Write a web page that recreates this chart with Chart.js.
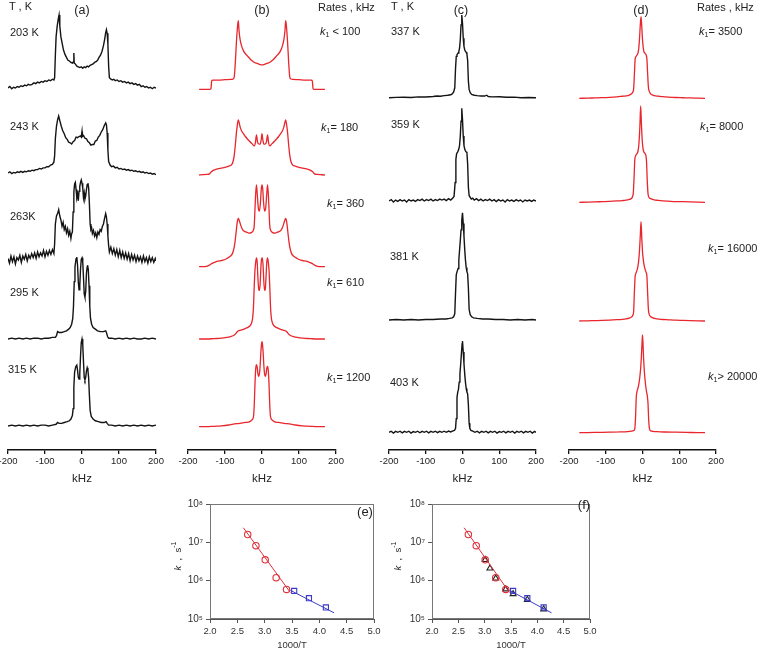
<!DOCTYPE html>
<html><head><meta charset="utf-8">
<script src="https://cdn.jsdelivr.net/npm/chart.js@4.4.0/dist/chart.umd.min.js"></script>
<style>
html,body{margin:0;padding:0;width:760px;height:649px;overflow:hidden;background:#fff;font-family:"Liberation Sans",Arial,sans-serif;color:#222}
canvas{position:absolute}
.t{position:absolute;white-space:nowrap;font-size:11px;line-height:11px;height:11px}
.h{position:absolute;white-space:nowrap;font-size:12.5px;line-height:13px;transform:translateX(-50%)}
.yt{position:absolute;white-space:nowrap;font-size:9.5px;line-height:10px;transform:translate(-50%,-50%) rotate(-90deg)}
sub{font-size:7px;vertical-align:-2px;line-height:0}
</style></head><body>
<canvas id="ca" width="176" height="490" style="left:-6px;top:0"></canvas>
<canvas id="cb" width="176" height="490" style="left:174px;top:0"></canvas>
<canvas id="cc" width="175" height="490" style="left:375px;top:0"></canvas>
<canvas id="cd" width="175" height="490" style="left:555px;top:0"></canvas>
<canvas id="ce" width="214" height="156" style="left:170px;top:495px"></canvas>
<canvas id="cf" width="208" height="156" style="left:392px;top:495px"></canvas>

<div class="t" style="left:9px;top:1px">T , K</div>
<div class="h" style="left:82px;top:4px">(a)</div>
<div class="t" style="left:10px;top:27px">203 K</div>
<div class="t" style="left:10px;top:121px">243 K</div>
<div class="t" style="left:10px;top:211px">263K</div>
<div class="t" style="left:10px;top:287px">295 K</div>
<div class="t" style="left:8px;top:364px">315 K</div>

<div class="h" style="left:262px;top:4px">(b)</div>
<div class="t" style="left:318px;top:2px">Rates , kHz</div>
<div class="t" style="left:320px;top:26px"><i>k</i><sub>1</sub> &lt; 100</div>
<div class="t" style="left:321px;top:122px"><i>k</i><sub>1</sub>= 180</div>
<div class="t" style="left:327px;top:198px"><i>k</i><sub>1</sub>= 360</div>
<div class="t" style="left:327px;top:277px"><i>k</i><sub>1</sub>= 610</div>
<div class="t" style="left:327px;top:372px"><i>k</i><sub>1</sub>= 1200</div>

<div class="t" style="left:391px;top:1px">T , K</div>
<div class="h" style="left:461px;top:4px">(c)</div>
<div class="t" style="left:391px;top:26px">337 K</div>
<div class="t" style="left:391px;top:119px">359 K</div>
<div class="t" style="left:390px;top:251px">381 K</div>
<div class="t" style="left:390px;top:377px">403 K</div>

<div class="h" style="left:641px;top:4px">(d)</div>
<div class="t" style="left:697px;top:2px">Rates , kHz</div>
<div class="t" style="left:699px;top:26px"><i>k</i><sub>1</sub>= 3500</div>
<div class="t" style="left:700px;top:121px"><i>k</i><sub>1</sub>= 8000</div>
<div class="t" style="left:708px;top:243px"><i>k</i><sub>1</sub>= 16000</div>
<div class="t" style="left:708px;top:371px"><i>k</i><sub>1</sub>&gt; 20000</div>

<div class="h" style="left:365px;top:505px;font-size:13px">(e)</div>
<div class="h" style="left:584px;top:498px;font-size:13px">(f)</div>
<div class="yt" style="left:176px;top:556px"><i>k</i>&nbsp;&nbsp;,&nbsp;&nbsp;s<sup style="font-size:7px">-1</sup></div>
<div class="yt" style="left:396px;top:556px"><i>k</i>&nbsp;&nbsp;,&nbsp;&nbsp;s<sup style="font-size:7px">-1</sup></div>

<script>
// ---------- tick labels ----------
const kHzTicks = [-200, -100, 0, 100, 200];
const invTTicks = [2.0, 2.5, 3.0, 3.5, 4.0, 4.5, 5.0];
const kDecades = [1e5, 1e6, 1e7, 1e8];

// ---------- panel (a): experimental spectra, [kHz, normalised intensity] ----------
const a203 = [[-200,0.00],[-195,0.02],[-190,-0.01],[-185,0.01],[-180,0.00],[-175,0.02],[-170,0.01],[-165,0.03],[-160,0.02],[-155,0.04],[-150,0.03],[-145,0.05],[-140,0.04],[-135,0.05],[-130,0.07],[-125,0.06],[-120,0.08],[-115,0.07],[-110,0.09],[-105,0.08],[-100,0.10],[-95,0.09],[-90,0.11],[-85,0.10],[-80,0.12],[-76,0.11],[-74,0.14],[-72,0.45],[-70,0.70],[-67,0.85],[-64,0.95],[-62,1.00],[-60,0.85],[-57,0.70],[-54,0.62],[-50,0.52],[-46,0.46],[-42,0.42],[-38,0.38],[-34,0.37],[-30,0.35],[-26,0.34],[-23,0.36],[-22,0.48],[-21,0.34],[-18,0.33],[-14,0.30],[-10,0.29],[-6,0.28],[-2,0.29],[2,0.27],[6,0.29],[10,0.28],[14,0.30],[18,0.29],[22,0.31],[26,0.32],[30,0.33],[34,0.35],[38,0.36],[42,0.38],[46,0.42],[50,0.45],[54,0.50],[58,0.58],[61,0.66],[64,0.76],[66,0.80],[68,0.75],[70,0.60],[72,0.30],[74,0.14],[78,0.12],[82,0.11],[86,0.12],[90,0.10],[95,0.11],[100,0.09],[105,0.10],[110,0.08],[115,0.09],[120,0.07],[125,0.08],[130,0.06],[135,0.07],[140,0.05],[145,0.06],[150,0.04],[155,0.05],[160,0.02],[165,0.03],[170,0.01],[175,0.02],[180,0.00],[185,0.01],[190,-0.01],[195,0.01],[200,0.00]];
const a243 = [[-200,0.00],[-195,0.02],[-190,-0.01],[-185,0.01],[-180,0.00],[-175,0.02],[-170,0.01],[-165,0.03],[-160,0.01],[-155,0.03],[-150,0.02],[-145,0.04],[-140,0.03],[-135,0.05],[-130,0.04],[-125,0.06],[-120,0.06],[-115,0.08],[-110,0.07],[-105,0.09],[-100,0.09],[-95,0.11],[-90,0.11],[-85,0.14],[-80,0.15],[-76,0.19],[-74,0.30],[-72,0.60],[-69,0.82],[-66,0.93],[-63,1.00],[-60,0.92],[-56,0.82],[-52,0.74],[-48,0.69],[-44,0.62],[-40,0.59],[-36,0.54],[-32,0.53],[-28,0.51],[-24,0.55],[-20,0.57],[-16,0.63],[-12,0.62],[-8,0.64],[-4,0.65],[-2,0.63],[0,0.73],[1,0.64],[4,0.66],[8,0.61],[12,0.60],[16,0.55],[20,0.53],[24,0.49],[28,0.50],[32,0.50],[36,0.56],[40,0.57],[44,0.63],[48,0.66],[52,0.72],[56,0.76],[60,0.83],[64,0.88],[66,0.85],[68,0.70],[70,0.40],[72,0.20],[76,0.14],[80,0.11],[85,0.12],[90,0.09],[95,0.10],[100,0.07],[105,0.08],[110,0.06],[115,0.07],[120,0.05],[125,0.06],[130,0.04],[135,0.05],[140,0.03],[145,0.04],[150,0.02],[155,0.03],[160,0.01],[165,0.02],[170,0.00],[175,0.01],[180,-0.01],[185,0.00],[190,-0.02],[195,-0.01],[200,-0.03]];
const a263 = [[-200,0.02],[-196,-0.04],[-192,0.05],[-188,-0.02],[-184,0.04],[-180,-0.05],[-176,0.03],[-172,0.00],[-168,0.06],[-164,-0.03],[-160,0.05],[-156,0.01],[-152,0.07],[-148,-0.01],[-144,0.06],[-140,0.02],[-136,0.08],[-132,0.03],[-128,0.09],[-124,0.02],[-120,0.10],[-116,0.04],[-112,0.09],[-108,0.05],[-104,0.12],[-100,0.04],[-96,0.11],[-92,0.06],[-88,0.12],[-84,0.07],[-80,0.13],[-76,0.08],[-74,0.20],[-72,0.45],[-69,0.55],[-66,0.58],[-63,0.63],[-60,0.55],[-57,0.50],[-54,0.42],[-51,0.47],[-48,0.38],[-45,0.42],[-42,0.34],[-39,0.39],[-36,0.31],[-33,0.36],[-30,0.27],[-28,0.33],[-26,0.35],[-24,0.60],[-22,0.85],[-20,0.95],[-18,0.97],[-16,0.88],[-14,0.78],[-12,0.82],[-10,0.74],[-8,0.86],[-6,0.92],[-4,0.97],[-2,1.00],[0,0.96],[2,0.90],[4,0.78],[6,0.84],[8,0.76],[10,0.80],[12,0.88],[14,0.94],[16,0.96],[18,0.90],[20,0.70],[22,0.45],[24,0.38],[26,0.40],[28,0.33],[31,0.37],[34,0.30],[37,0.34],[40,0.28],[43,0.35],[46,0.32],[49,0.38],[52,0.36],[55,0.42],[58,0.45],[61,0.52],[64,0.58],[66,0.54],[68,0.45],[70,0.30],[72,0.18],[74,0.10],[78,0.16],[82,0.08],[86,0.14],[90,0.06],[94,0.13],[98,0.04],[102,0.12],[106,0.03],[110,0.10],[114,0.02],[118,0.09],[122,0.01],[126,0.08],[130,-0.01],[134,0.07],[138,0.00],[142,0.06],[146,-0.02],[150,0.05],[154,-0.01],[158,0.04],[162,-0.03],[166,0.05],[170,-0.02],[174,0.03],[178,-0.04],[182,0.04],[186,-0.02],[190,0.03],[194,-0.03],[198,0.02],[200,-0.01]];
const a295 = [[-200,0.00],[-190,0.01],[-180,0.00],[-170,0.01],[-160,0.00],[-150,0.01],[-140,0.00],[-130,0.01],[-120,0.01],[-110,0.00],[-100,0.01],[-90,0.01],[-80,0.02],[-72,0.02],[-69,0.04],[-66,0.09],[-62,0.08],[-55,0.08],[-48,0.09],[-42,0.10],[-36,0.12],[-32,0.14],[-28,0.18],[-25,0.25],[-23,0.40],[-21,0.70],[-19,0.88],[-16,0.98],[-14,1.00],[-12,0.90],[-10,0.70],[-8,0.60],[-6,0.65],[-4,0.85],[-2,0.97],[0,0.99],[2,0.94],[4,0.75],[6,0.55],[8,0.51],[10,0.58],[12,0.80],[14,0.88],[15,0.90],[17,0.85],[19,0.65],[21,0.40],[23,0.25],[26,0.18],[30,0.14],[36,0.12],[42,0.10],[50,0.09],[58,0.09],[64,0.10],[66,0.08],[69,0.03],[72,0.01],[80,0.01],[90,0.00],[100,0.01],[110,0.00],[120,0.01],[130,0.00],[140,0.01],[150,0.00],[160,0.00],[170,0.01],[180,0.00],[190,0.01],[200,0.00]];
const a315 = [[-200,0.00],[-190,0.01],[-180,0.00],[-170,0.01],[-160,0.00],[-150,0.01],[-140,0.00],[-130,0.01],[-120,0.00],[-110,0.01],[-100,0.01],[-90,0.00],[-80,0.01],[-70,0.02],[-66,0.04],[-62,0.03],[-55,0.03],[-48,0.04],[-40,0.05],[-34,0.06],[-30,0.08],[-26,0.12],[-24,0.20],[-22,0.45],[-20,0.62],[-17,0.68],[-14,0.70],[-12,0.64],[-10,0.56],[-8,0.54],[-6,0.60],[-4,0.80],[-2,0.96],[0,1.00],[2,0.94],[4,0.74],[6,0.56],[8,0.53],[10,0.56],[12,0.63],[14,0.67],[16,0.64],[18,0.55],[20,0.35],[22,0.18],[25,0.11],[30,0.08],[36,0.06],[44,0.05],[52,0.04],[60,0.04],[65,0.05],[68,0.03],[72,0.01],[80,0.01],[90,0.00],[100,0.01],[110,0.00],[120,0.01],[130,0.00],[140,0.01],[150,0.00],[160,0.01],[170,0.00],[180,0.01],[190,0.00],[200,0.01]];

// ---------- panel (b): simulated spectra ----------
const bK100 = [[-170,0],[-150,0],[-140,0],[-138,0.01],[-136,0.12],[-133,0.135],[-120,0.135],[-100,0.14],[-85,0.145],[-78,0.15],[-75,0.18],[-72,0.40],[-69,0.70],[-66,0.92],[-64,1.00],[-62,0.85],[-59,0.72],[-55,0.63],[-50,0.56],[-45,0.52],[-40,0.49],[-35,0.46],[-30,0.43],[-25,0.41],[-20,0.39],[-15,0.38],[-10,0.37],[-5,0.36],[0,0.355],[5,0.36],[10,0.37],[15,0.38],[20,0.39],[25,0.41],[30,0.43],[35,0.46],[40,0.49],[45,0.52],[50,0.56],[55,0.63],[59,0.72],[62,0.85],[64,1.00],[66,0.92],[69,0.70],[72,0.40],[75,0.18],[78,0.15],[85,0.145],[100,0.14],[120,0.135],[133,0.135],[136,0.12],[138,0.01],[140,0],[150,0],[170,0]];
const bK180 = [[-170,0],[-160,0.005],[-150,0.01],[-142,0.02],[-137,0.06],[-130,0.09],[-120,0.11],[-110,0.125],[-100,0.14],[-90,0.16],[-82,0.19],[-78,0.25],[-75,0.36],[-72,0.55],[-69,0.78],[-66,0.94],[-64,1.00],[-62,0.96],[-59,0.87],[-55,0.80],[-51,0.76],[-45,0.70],[-40,0.66],[-33,0.61],[-27,0.57],[-21,0.53],[-18,0.58],[-15,0.73],[-12,0.60],[-8,0.56],[-5,0.56],[-2,0.65],[0,0.75],[2,0.65],[5,0.56],[8,0.56],[12,0.60],[15,0.73],[18,0.58],[21,0.53],[27,0.57],[33,0.61],[40,0.66],[45,0.70],[51,0.76],[55,0.80],[59,0.87],[62,0.96],[64,1.00],[66,0.94],[69,0.78],[72,0.55],[75,0.36],[78,0.25],[82,0.19],[90,0.16],[100,0.14],[110,0.125],[120,0.11],[130,0.09],[137,0.06],[142,0.02],[150,0.01],[160,0.005],[170,0]];
const bK360 = [[-170,0],[-160,0],[-150,0.005],[-142,0.02],[-135,0.04],[-125,0.06],[-115,0.07],[-105,0.08],[-95,0.10],[-85,0.13],[-80,0.16],[-76,0.22],[-73,0.30],[-70,0.42],[-67,0.54],[-64,0.59],[-61,0.56],[-57,0.50],[-52,0.45],[-46,0.43],[-40,0.42],[-34,0.41],[-28,0.42],[-24,0.44],[-21,0.50],[-19,0.70],[-17,0.90],[-15,1.00],[-13,0.90],[-10,0.72],[-7,0.68],[-4,0.80],[-2,0.95],[0,1.00],[2,0.95],[4,0.80],[7,0.68],[10,0.72],[13,0.90],[15,1.00],[17,0.90],[19,0.70],[21,0.50],[24,0.44],[28,0.42],[34,0.41],[40,0.42],[46,0.43],[52,0.45],[57,0.50],[61,0.56],[64,0.59],[67,0.54],[70,0.42],[73,0.30],[76,0.22],[80,0.16],[85,0.13],[95,0.10],[105,0.08],[115,0.07],[125,0.06],[135,0.04],[142,0.02],[150,0.005],[160,0],[170,0]];
const bK610 = [[-170,0],[-150,0],[-130,0.005],[-110,0.01],[-95,0.02],[-85,0.03],[-78,0.04],[-72,0.06],[-67,0.09],[-64,0.10],[-60,0.105],[-50,0.12],[-40,0.14],[-33,0.16],[-28,0.20],[-25,0.27],[-23,0.40],[-21,0.65],[-19,0.85],[-17,0.95],[-15,1.00],[-13,0.95],[-11,0.75],[-9,0.62],[-7,0.60],[-5,0.68],[-3,0.88],[-1,0.99],[1,1.00],[3,0.90],[5,0.70],[7,0.60],[9,0.62],[11,0.78],[13,0.95],[15,1.00],[17,0.95],[19,0.85],[21,0.65],[23,0.40],[25,0.27],[28,0.20],[33,0.16],[40,0.14],[50,0.12],[60,0.105],[64,0.10],[67,0.09],[72,0.06],[78,0.04],[85,0.03],[95,0.02],[110,0.01],[130,0.005],[150,0],[170,0]];
const bK1200 = [[-170,0],[-150,0],[-130,0.005],[-110,0.01],[-90,0.02],[-78,0.03],[-60,0.04],[-45,0.05],[-33,0.06],[-27,0.08],[-23,0.12],[-21,0.25],[-19,0.50],[-17,0.68],[-15,0.73],[-13,0.70],[-11,0.62],[-9,0.59],[-7,0.62],[-5,0.72],[-3,0.88],[-1,0.98],[0,1.00],[1,0.98],[3,0.88],[5,0.72],[7,0.62],[9,0.59],[11,0.62],[13,0.69],[15,0.71],[17,0.66],[19,0.50],[21,0.25],[23,0.12],[27,0.08],[33,0.06],[45,0.05],[60,0.04],[78,0.03],[90,0.02],[110,0.01],[130,0.005],[150,0],[170,0]];

// ---------- panel (c): experimental spectra ----------
const c337 = [[-200,0],[-180,0.004],[-160,0.005],[-140,0.003],[-120,0.01],[-100,0.008],[-80,0.015],[-70,0.02],[-60,0.018],[-50,0.025],[-40,0.03],[-32,0.035],[-28,0.045],[-24,0.07],[-21,0.12],[-19,0.35],[-17,0.50],[-15,0.52],[-12,0.54],[-10,0.56],[-8,0.60],[-6,0.70],[-4,0.88],[-2,1.00],[0,0.90],[2,0.72],[4,0.62],[6,0.58],[8,0.56],[10,0.55],[12,0.53],[14,0.45],[16,0.20],[18,0.10],[21,0.06],[25,0.04],[32,0.03],[40,0.025],[50,0.02],[60,0.02],[66,0.03],[70,0.015],[80,0.01],[100,0.012],[120,0.005],[140,0.007],[160,0.00],[180,0.003],[200,0]];
const c359 = [[-200,0.00],[-194,0.015],[-188,-0.01],[-182,0.01],[-176,-0.005],[-170,0.015],[-164,0.00],[-158,0.01],[-152,-0.01],[-146,0.015],[-140,0.00],[-134,0.01],[-128,-0.005],[-122,0.015],[-116,0.005],[-110,0.02],[-104,0.00],[-98,0.015],[-92,0.005],[-86,0.02],[-80,0.00],[-74,0.015],[-68,0.005],[-62,0.02],[-56,0.01],[-50,0.02],[-44,0.005],[-38,0.025],[-32,0.01],[-27,0.03],[-23,0.05],[-20,0.20],[-18,0.45],[-16,0.51],[-13,0.53],[-10,0.56],[-8,0.60],[-6,0.70],[-4,0.86],[-2,1.00],[0,0.88],[2,0.70],[4,0.60],[6,0.56],[8,0.54],[10,0.53],[12,0.52],[14,0.40],[16,0.15],[18,0.06],[21,0.04],[24,0.02],[28,0.03],[32,0.01],[38,0.025],[44,0.005],[50,0.02],[56,0.00],[62,0.015],[68,0.005],[74,0.02],[80,0.00],[86,0.015],[92,-0.005],[98,0.015],[104,0.00],[110,0.01],[116,-0.01],[122,0.015],[128,0.00],[134,0.01],[140,-0.005],[146,0.015],[152,0.00],[158,0.01],[164,-0.01],[170,0.01],[176,0.00],[182,0.01],[188,-0.005],[194,0.01],[200,0.00]];
const c381 = [[-200,0.00],[-180,0.005],[-160,0.00],[-140,0.005],[-120,0.00],[-100,0.005],[-80,0.005],[-60,0.01],[-45,0.01],[-35,0.015],[-28,0.02],[-24,0.03],[-21,0.06],[-19,0.25],[-17,0.42],[-14,0.46],[-12,0.48],[-10,0.56],[-8,0.65],[-6,0.74],[-4,0.84],[-2,0.93],[0,1.00],[2,0.90],[4,0.78],[6,0.66],[8,0.56],[10,0.49],[12,0.45],[14,0.43],[16,0.30],[18,0.10],[21,0.05],[25,0.03],[30,0.02],[40,0.015],[55,0.01],[70,0.01],[90,0.005],[110,0.005],[130,0.00],[150,0.005],[170,0.00],[190,0.005],[200,0.00]];
const c403 = [[-200,0.00],[-194,0.012],[-188,-0.008],[-182,0.01],[-176,0.00],[-170,0.012],[-164,-0.006],[-158,0.01],[-152,0.00],[-146,0.012],[-140,-0.008],[-134,0.008],[-128,0.00],[-122,0.012],[-116,-0.005],[-110,0.01],[-104,0.00],[-98,0.012],[-92,-0.006],[-86,0.01],[-80,0.00],[-74,0.012],[-68,-0.004],[-62,0.01],[-56,0.00],[-50,0.012],[-44,0.00],[-38,0.014],[-32,0.004],[-26,0.016],[-22,0.02],[-19,0.04],[-17,0.15],[-15,0.38],[-13,0.44],[-11,0.47],[-9,0.55],[-7,0.64],[-5,0.74],[-3,0.86],[-1,0.97],[0,1.00],[2,0.88],[4,0.75],[6,0.64],[8,0.55],[10,0.48],[12,0.44],[14,0.42],[16,0.30],[18,0.10],[20,0.04],[23,0.02],[28,0.012],[34,0.00],[40,0.012],[46,-0.006],[52,0.01],[58,0.00],[64,0.012],[70,-0.006],[76,0.01],[82,0.00],[88,0.012],[94,-0.008],[100,0.008],[106,0.00],[112,0.012],[118,-0.006],[124,0.01],[130,0.00],[136,0.012],[142,-0.008],[148,0.01],[154,0.00],[160,0.012],[166,-0.006],[172,0.01],[178,0.00],[184,0.012],[190,-0.008],[196,0.01],[200,0.00]];

// ---------- panel (d): simulated spectra ----------
const dK3500 = [[-172,0],[-150,0.002],[-130,0.005],[-110,0.008],[-90,0.012],[-70,0.018],[-55,0.025],[-45,0.03],[-36,0.04],[-30,0.055],[-26,0.08],[-24,0.12],[-22,0.30],[-20,0.48],[-18,0.51],[-15,0.53],[-12,0.56],[-10,0.62],[-8,0.74],[-6,0.90],[-4,1.00],[-2,0.88],[0,0.72],[2,0.62],[4,0.57],[7,0.55],[10,0.53],[12,0.48],[14,0.30],[16,0.14],[18,0.09],[22,0.055],[28,0.04],[36,0.03],[45,0.025],[55,0.02],[70,0.015],[90,0.01],[110,0.007],[130,0.004],[150,0.002],[170,0]];
const dK8000 = [[-172,0],[-150,0.002],[-130,0.004],[-110,0.007],[-90,0.01],[-70,0.014],[-55,0.018],[-45,0.022],[-36,0.03],[-30,0.04],[-27,0.06],[-25,0.10],[-23,0.25],[-21,0.44],[-19,0.48],[-16,0.50],[-13,0.52],[-11,0.56],[-9,0.65],[-7,0.80],[-5,1.00],[-3,0.82],[-1,0.66],[1,0.57],[3,0.53],[6,0.51],[9,0.49],[11,0.42],[13,0.22],[15,0.09],[18,0.05],[24,0.035],[32,0.025],[42,0.02],[55,0.015],[70,0.012],[90,0.008],[110,0.006],[130,0.004],[150,0.002],[170,0]];
const dK16000 = [[-172,0],[-150,0.002],[-130,0.004],[-110,0.006],[-90,0.009],[-70,0.013],[-55,0.017],[-45,0.022],[-36,0.03],[-30,0.04],[-26,0.06],[-24,0.10],[-22,0.30],[-20,0.45],[-18,0.48],[-15,0.51],[-12,0.56],[-10,0.62],[-8,0.72],[-6,0.86],[-4,1.00],[-2,0.84],[0,0.70],[2,0.62],[4,0.57],[7,0.52],[10,0.49],[12,0.45],[14,0.28],[16,0.12],[18,0.07],[22,0.045],[28,0.032],[36,0.024],[45,0.019],[55,0.015],[70,0.012],[90,0.008],[110,0.006],[130,0.004],[150,0.002],[170,0]];
const dK20000 = [[-172,0],[-150,0.001],[-120,0.003],[-90,0.005],[-60,0.008],[-40,0.012],[-30,0.016],[-24,0.022],[-21,0.04],[-19,0.15],[-17,0.36],[-15,0.42],[-12,0.46],[-9,0.52],[-7,0.58],[-5,0.66],[-3,0.78],[-1.5,0.90],[0,1.00],[1.5,0.90],[3,0.76],[5,0.63],[7,0.54],[9,0.47],[11,0.42],[13,0.38],[15,0.30],[17,0.12],[19,0.04],[22,0.02],[28,0.014],[40,0.01],[60,0.007],[90,0.005],[120,0.003],[150,0.001],[170,0]];

// ---------- panels (e), (f): rate constants ----------
const invT_red  = [2.69, 2.84, 3.01, 3.21, 3.40];
const k_red     = [1.6e7, 8.2e6, 3.5e6, 1.2e6, 5.9e5];
const invT_blue = [3.54, 3.81, 4.12];
const k_blue    = [5.4e5, 3.5e5, 2.0e5];
const invT_tri  = [3.01, 3.10, 3.21, 3.40, 3.54, 3.81, 4.12];
const k_tri     = [3.5e6, 2.1e6, 1.15e6, 6.0e5, 4.5e5, 3.2e5, 1.8e5];
const fitRed_x  = [2.61, 3.47];
const fitRed_k  = [2.4e7, 4.9e5];
const fitBlue_x = [3.47, 4.27];
const fitBlue_k = [5.6e5, 1.45e5];

// ---------- layout (page pixels: baseline, peak top) ----------
const placeA = [[88,15],[173,116],[260,180],[339,257],[426,339]];
const placeB = [[89.3,20.7],[175,120],[266.7,185],[339,258],[426.7,341.7]];
const placeC = [[97.7,15],[201,108.3],[320,212.7],[432.3,341]];
const placeD = [[98.3,16.7],[202.3,106],[321,221.7],[432.7,335]];
const AREA_TOP = 5, AREA_BOTTOM = 450;

Chart.defaults.font.family = '"Liberation Sans", Arial, sans-serif';
Chart.defaults.color = '#222';

function yRange(pb, pt) {
  const H = AREA_BOTTOM - AREA_TOP, k = pb - pt;
  const min = -(AREA_BOTTOM - pb) / k;
  return {min, max: min + H / k};
}

function spectraChart(id, traces, place, color, smooth) {
  const datasets = [];
  const scales = {
    x: {
      type: 'linear', position: 'bottom', min: -200, max: 200,
      afterBuildTicks: s => { s.ticks = kHzTicks.map(v => ({value: v})); },
      afterFit: s => { s.height = 40; },
      grid: {drawOnChartArea: false, drawTicks: true, tickLength: 4, color: '#111', lineWidth: 1.3},
      border: {display: true, color: '#111', width: 1.6},
      ticks: {font: {size: 9.5}, color: '#222', padding: 2, maxRotation: 0, autoSkip: false},
      title: {display: true, text: 'kHz', font: {size: 11.5}, color: '#222', padding: {top: 0, bottom: 4}}
    }
  };
  traces.forEach((tr, i) => {
    const r = yRange(place[i][0], place[i][1]);
    scales['y' + i] = {type: 'linear', display: false, min: r.min, max: r.max};
    datasets.push({
      data: tr.map(p => ({x: p[0], y: p[1]})), yAxisID: 'y' + i,
      borderColor: color, borderWidth: smooth ? 1.3 : 1.4, pointRadius: 0,
      cubicInterpolationMode: smooth ? 'monotone' : 'default', tension: 0, fill: false
    });
  });
  new Chart(document.getElementById(id), {
    type: 'line', data: {datasets},
    options: {
      animation: false, responsive: false, events: [],
      layout: {padding: {left: 14, right: 14, top: AREA_TOP, bottom: 0}},
      plugins: {legend: {display: false}, tooltip: {enabled: false}},
      scales
    }
  });
}

spectraChart('ca', [a203, a243, a263, a295, a315], placeA, '#141414', false);
spectraChart('cb', [bK100, bK180, bK360, bK610, bK1200], placeB, '#e8262c', true);
spectraChart('cc', [c337, c359, c381, c403], placeC, '#141414', false);
spectraChart('cd', [dK3500, dK8000, dK16000, dK20000], placeD, '#e8262c', true);

const supDigits = {5: '\u2075', 6: '\u2076', 7: '\u2077', 8: '\u2078'};
const frame = {
  id: 'frame',
  afterDraw(c) {
    const a = c.chartArea, x = c.ctx;
    x.save(); x.strokeStyle = '#777'; x.lineWidth = 1;
    x.strokeRect(a.left + 0.5, a.top + 0.5, a.right - a.left - 1, a.bottom - a.top - 1);
    x.restore();
  }
};
const pts = (xs, ks) => xs.map((v, i) => ({x: v, y: ks[i]}));

function rateChart(id, withTri) {
  const datasets = [
    {data: pts(fitRed_x, fitRed_k), borderColor: '#e0303a', borderWidth: 1, pointRadius: 0, showLine: true},
    {data: pts(fitBlue_x, fitBlue_k), borderColor: '#3a3ac8', borderWidth: 1, pointRadius: 0, showLine: true},
    {data: pts(invT_red, k_red), showLine: false, pointStyle: 'circle', pointRadius: 3.2,
     pointBorderColor: '#e0303a', pointBackgroundColor: 'rgba(0,0,0,0)', pointBorderWidth: 1.1},
    {data: pts(invT_blue, k_blue), showLine: false, pointStyle: 'rect', pointRadius: 3.6,
     pointBorderColor: '#3a3ac8', pointBackgroundColor: 'rgba(0,0,0,0)', pointBorderWidth: 1.1}
  ];
  if (withTri) datasets.push({data: pts(invT_tri, k_tri), showLine: false, pointStyle: 'triangle', pointRadius: 3.4,
     pointBorderColor: '#222', pointBackgroundColor: 'rgba(0,0,0,0)', pointBorderWidth: 1.1});
  new Chart(document.getElementById(id), {
    type: 'line', data: {datasets},
    options: {
      animation: false, responsive: false, events: [],
      layout: {padding: {left: 10, right: 10, top: 7, bottom: 0}},
      plugins: {legend: {display: false}, tooltip: {enabled: false}},
      scales: {
        x: {type: 'linear', min: 2, max: 5,
            afterBuildTicks: s => { s.ticks = invTTicks.map(v => ({value: v})); },
            afterFit: s => { s.height = 32; },
            ticks: {callback: v => Number(v).toFixed(1), font: {size: 9.5}, color: '#333', padding: 3, maxRotation: 0, autoSkip: false},
            grid: {drawOnChartArea: false, tickLength: 4, color: '#555'},
            border: {color: '#555'},
            title: {display: true, text: '1000/T', font: {size: 9.5}, color: '#333', padding: {top: 0, bottom: 0}}},
        y: {type: 'logarithmic', min: 1e5, max: 1e8,
            afterBuildTicks: s => { s.ticks = kDecades.map(v => ({value: v})); },
            afterFit: s => { s.width = 30; },
            ticks: {callback: v => '10' + supDigits[Math.round(Math.log10(v))], font: {size: 10}, color: '#333', padding: 3},
            grid: {drawOnChartArea: false, tickLength: 4, color: '#555'},
            border: {color: '#555'}}
      }
    },
    plugins: [frame]
  });
}
rateChart('ce', false);
rateChart('cf', true);
</script>
</body></html>
